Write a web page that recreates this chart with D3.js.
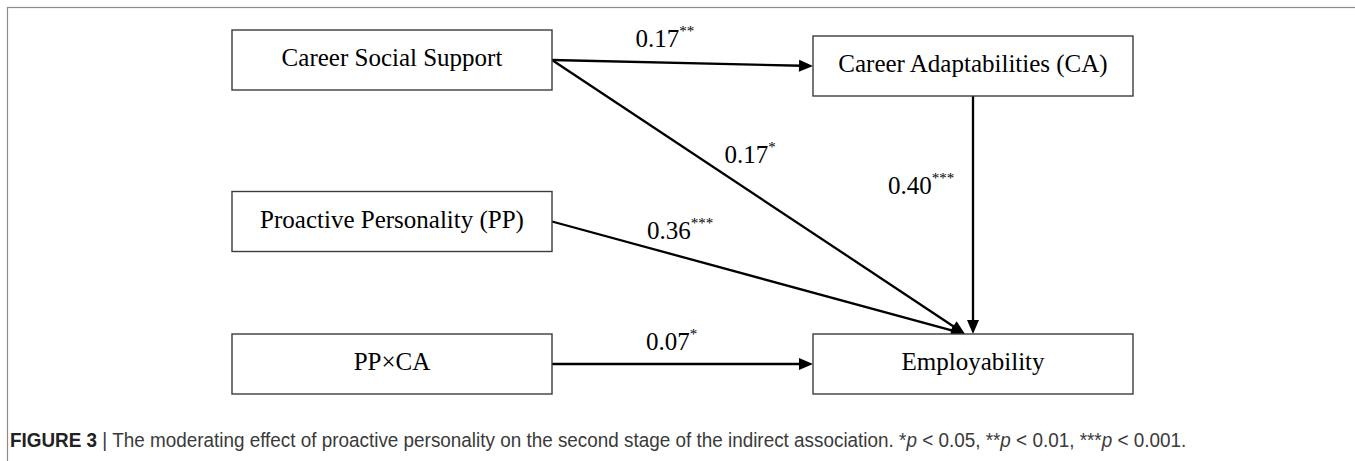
<!DOCTYPE html>
<html>
<head>
<meta charset="utf-8">
<script src="https://cdn.jsdelivr.net/npm/d3@7"></script>
<style>
  html, body { margin: 0; padding: 0; background: #fff; }
  svg { display: block; }
</style>
</head>
<body>
<div id="chart"></div>
<script>
const width = 1355;
const height = 461;

// model nodes (column / row in the diagram grid)
const nodeNames = ['Career Social Support', 'Career Adaptabilities (CA)', 'Proactive Personality (PP)', 'PP×CA', 'Employability'];
const nodeCols = [0, 1, 0, 0, 1];
const nodeRows = [0, 0, 1, 2, 2];

// paths between nodes
const pathFrom = [0, 0, 1, 2, 3];
const pathTo = [1, 4, 4, 4, 4];
const pathCoef = ['0.17', '0.17', '0.40', '0.36', '0.07'];
const pathStars = ['**', '*', '***', '***', '*'];

const captionLead = 'FIGURE 3';
const captionBody = 'The moderating effect of proactive personality on the second stage of the indirect association. ';

// layout
const boxW = 320;
const boxH = 60;
const x = d3.scalePoint().domain([0, 1]).range([392, 973]);
const y = d3.scaleOrdinal().domain([0, 1, 2]).range([60, 221.5, 364]);
const nudge = { 1: 6 }; // CA box sits a little lower
// label placement along each path: t, dx, dy
const labelPos = [[0.32, 0, -15], [0.35, 28, 7], [0.41, -85, 0], [0.23, 0, -8], [0.36, 0, -14]];

const serif = "'Liberation Serif', 'Times New Roman', serif";

const nodes = nodeNames.map((name, i) => ({
  name,
  cx: x(nodeCols[i]),
  cy: y(nodeRows[i]) + (nudge[i] || 0),
  col: nodeCols[i],
  row: nodeRows[i]
}));

const svg = d3.select('#chart')
  .append('svg')
  .attr('width', width)
  .attr('height', height);

// figure frame
svg.append('rect')
  .attr('x', 7.5)
  .attr('y', 7.5)
  .attr('width', width + 20)
  .attr('height', height + 20)
  .attr('fill', 'none')
  .attr('stroke', '#8c8c8c')
  .attr('stroke-width', 1.2);

const edges = pathFrom.map((f, i) => {
  const s = nodes[f];
  const t = nodes[pathTo[i]];
  let x1, y1, x2, y2;
  if (s.col === t.col) {
    x1 = s.cx; y1 = s.cy + boxH / 2;
    x2 = t.cx; y2 = t.cy - boxH / 2;
  } else if (s.row === t.row) {
    x1 = s.cx + boxW / 2; y1 = s.cy;
    x2 = t.cx - boxW / 2; y2 = t.cy;
  } else {
    x1 = s.cx + boxW / 2; y1 = s.cy;
    x2 = t.cx - 8; y2 = t.cy - boxH / 2;
  }
  return { x1, y1, x2, y2, coef: pathCoef[i], stars: pathStars[i], pos: labelPos[i] };
});

const headLen = 14;
const headHalf = 6;

const links = svg.selectAll('.link')
  .data(edges)
  .enter()
  .append('g')
  .attr('class', 'link');

links.append('line')
  .attr('x1', d => d.x1)
  .attr('y1', d => d.y1)
  .attr('x2', d => {
    const a = Math.atan2(d.y2 - d.y1, d.x2 - d.x1);
    return d.x2 - Math.cos(a) * (headLen - 3);
  })
  .attr('y2', d => {
    const a = Math.atan2(d.y2 - d.y1, d.x2 - d.x1);
    return d.y2 - Math.sin(a) * (headLen - 3);
  })
  .attr('stroke', '#000')
  .attr('stroke-width', 2.3);

links.append('path')
  .attr('d', d => {
    const a = Math.atan2(d.y2 - d.y1, d.x2 - d.x1);
    const bx = d.x2 - Math.cos(a) * headLen;
    const by = d.y2 - Math.sin(a) * headLen;
    const px = -Math.sin(a) * headHalf;
    const py = Math.cos(a) * headHalf;
    return `M${d.x2},${d.y2}L${bx + px},${by + py}L${bx - px},${by - py}Z`;
  })
  .attr('fill', '#000');

const labels = links.append('text')
  .attr('x', d => d.x1 + (d.x2 - d.x1) * d.pos[0] + d.pos[1])
  .attr('y', d => d.y1 + (d.y2 - d.y1) * d.pos[0] + d.pos[2])
  .style('font-family', serif)
  .style('font-size', '25px')
  .style('fill', '#000');

labels.append('tspan').text(d => d.coef);
labels.append('tspan')
  .attr('dy', -11)
  .style('font-size', '15px')
  .text(d => d.stars);

// boxes
const boxes = svg.selectAll('.node')
  .data(nodes)
  .enter()
  .append('g')
  .attr('class', 'node')
  .attr('transform', d => `translate(${d.cx},${d.cy})`);

boxes.append('rect')
  .attr('x', -boxW / 2)
  .attr('y', -boxH / 2)
  .attr('width', boxW)
  .attr('height', boxH)
  .attr('fill', '#fff')
  .attr('stroke', '#3c3c3c')
  .attr('stroke-width', 1.4);

boxes.append('text')
  .attr('y', 6)
  .attr('text-anchor', 'middle')
  .style('font-family', serif)
  .style('font-size', '25px')
  .style('fill', '#000')
  .text(d => d.name);

// caption, squeezed horizontally to the condensed width of the original
const capG = svg.append('g');
const cap = capG.append('text')
  .attr('x', 0)
  .attr('y', 0)
  .style('font-family', "'Liberation Sans', Arial, sans-serif")
  .style('font-size', '19.5px')
  .style('fill', '#3a3a3a');

cap.append('tspan').style('font-weight', 'bold').style('fill', '#222').text(captionLead);
cap.append('tspan').text(' | ' + captionBody);
const pvals = [['*', '0.05, '], ['**', '0.01, '], ['***', '0.001.']];
pvals.forEach(p => {
  cap.append('tspan').text(p[0]);
  cap.append('tspan').style('font-style', 'italic').text('p');
  cap.append('tspan').text(' < ' + p[1]);
});

const capLen = cap.node().getComputedTextLength();
capG.attr('transform', `translate(10,447) scale(${1177 / capLen},1)`);
</script>
</body>
</html>
